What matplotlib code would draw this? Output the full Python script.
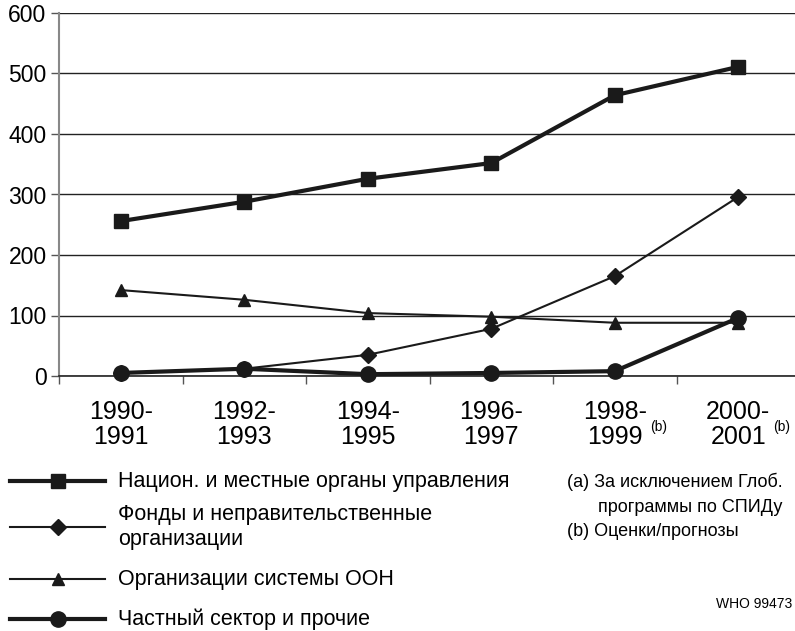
import matplotlib
matplotlib.use("Agg")
import matplotlib.pyplot as plt
from matplotlib.lines import Line2D

plt.rcParams['font.family'] = ['Liberation Sans', 'DejaVu Sans']

categories = ["1990-\n1991", "1992-\n1993", "1994-\n1995", "1996-\n1997",
              "1998-\n1999", "2000-\n2001"]
footnote_marks = ["", "", "", "", "(b)", "(b)"]
gov = [256, 288, 326, 352, 464, 511]
ngo = [5, 12, 35, 78, 165, 296]
un = [142, 126, 104, 98, 88, 88]
private = [5, 12, 3, 5, 8, 96]
yticks = [0, 100, 200, 300, 400, 500, 600]

series_labels = ["Национ. и местные органы управления",
                 "Фонды и неправительственные\nорганизации",
                 "Организации системы ООН",
                 "Частный сектор и прочие"]
notes = ["(a) За исключением Глоб.", "программы по СПИДу", "(b) Оценки/прогнозы"]
code = "WHO 99473"

W, H = 795, 631
fig = plt.figure(figsize=(W / 100, H / 100), dpi=100)
ax = fig.add_axes([59 / W, 1 - 376 / H, 741 / W, (376 - 13) / H])

C = '#1a1a1a'
x = list(range(len(categories)))
styles = [
    (gov, 's', 3.0, 10, 0),
    (ngo, 'D', 1.5, 8, 1),
    (un, '^', 1.5, 9, 2),
    (private, 'o', 3.0, 11, 3),
]
for vals, mk, lw, ms, z in [styles[1], styles[2], styles[0], styles[3]]:
    ax.plot(x, vals, color=C, lw=lw, marker=mk, ms=ms, mfc=C, mec=C, zorder=3 + z, clip_on=False)

ax.set_xlim(-0.5, 5.5)
ax.set_ylim(0, 600)
ax.set_yticks(yticks)
ax.set_yticklabels([str(v) for v in yticks], fontsize=16.5)
ax.yaxis.grid(True, color='#222222', lw=1.0)
ax.set_axisbelow(True)

ax.set_xticks([i - 0.5 for i in range(len(categories) + 1)])
ax.set_xticklabels([])
ax.set_xticks(x, minor=True)
ax.set_xticklabels(categories, minor=True, fontsize=18, linespacing=1.05)
ax.tick_params(axis='x', which='minor', length=0, pad=17)
ax.tick_params(axis='x', which='major', length=6, width=1, color='#555555')
ax.tick_params(axis='y', length=6, width=1, color='#555555', pad=3)

for s in ['top', 'right']:
    ax.spines[s].set_visible(False)
ax.spines['left'].set_color('#888888')
ax.spines['left'].set_linewidth(1.5)
ax.spines['bottom'].set_color('#222222')
ax.spines['bottom'].set_linewidth(1.2)

# footnote marks after second line of category labels
for i, mark in enumerate(footnote_marks):
    if mark:
        ax.annotate(mark, xy=(i, 0), xycoords=('data', 'axes fraction'),
                    xytext=(35, -51), textcoords='offset pixels',
                    fontsize=10, ha='left', va='center')

# legend / notes overlay in pixel coordinates
ov = fig.add_axes([0, 0, 1, 1])
ov.set_xlim(0, W)
ov.set_ylim(H, 0)
ov.axis('off')
rows = [481, 527, 579, 619]
for (vals, mk, lw, ms, z), yy, lab in zip(styles, rows, series_labels):
    ov.add_line(Line2D([10, 105], [yy, yy], color=C, lw=lw))
    ov.add_line(Line2D([58], [yy], color=C, marker=mk, ms=ms, mfc=C, mec=C))
    ov.text(118, yy, lab, fontsize=15.5, va='center', ha='left', linespacing=1.3)

ov.text(567, 482, notes[0], fontsize=13, va='center', ha='left')
ov.text(598, 508, notes[1], fontsize=13, va='center', ha='left')
ov.text(567, 532, notes[2], fontsize=13, va='center', ha='left')
ov.text(792, 604, code, fontsize=10, va='center', ha='right')

fig.savefig("out.png", dpi=100)
